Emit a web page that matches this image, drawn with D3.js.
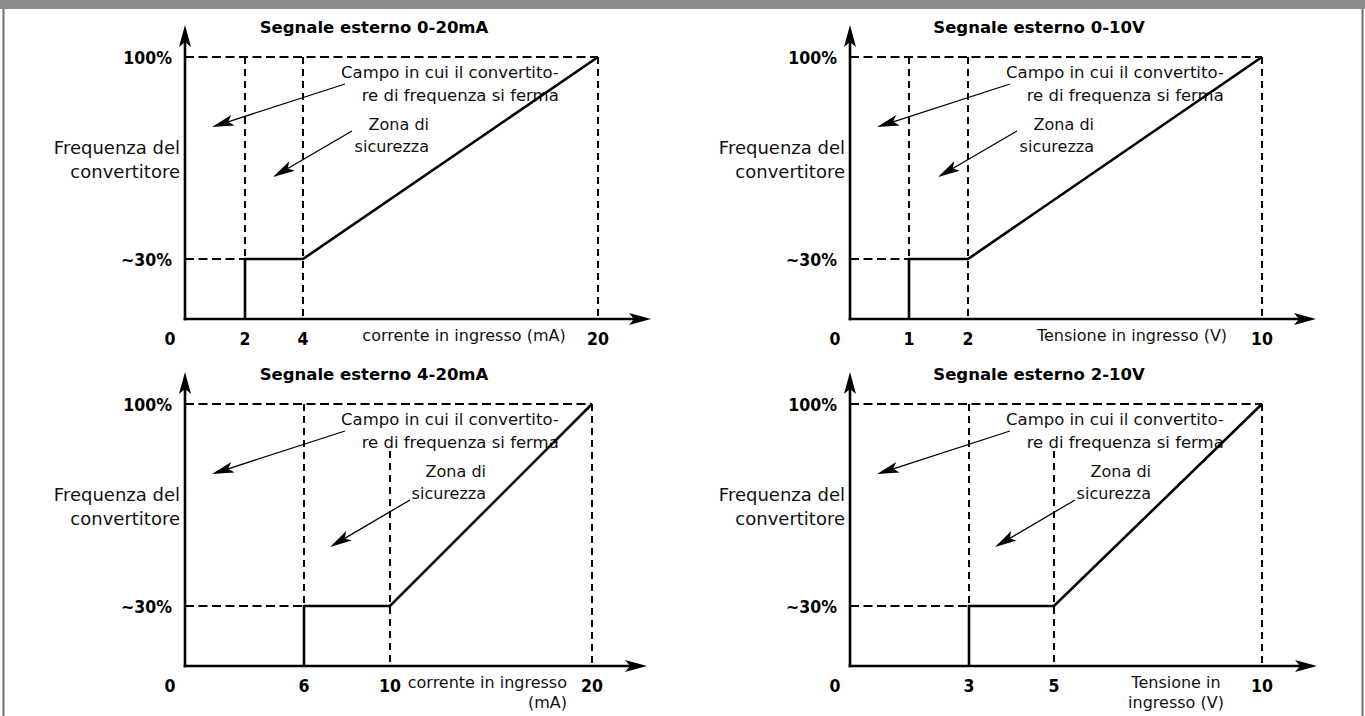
<!DOCTYPE html>
<html><head><meta charset="utf-8">
<script src="https://cdn.jsdelivr.net/npm/d3@7"></script>
<style>
body{margin:0;background:#fff;}
svg{display:block;}
</style>
</head><body>
<svg id="c" width="1365" height="716"></svg>
<script>
// ---------- DATA ----------
const panelTitles = ["Segnale esterno 0-20mA", "Segnale esterno 0-10V", "Segnale esterno 4-20mA", "Segnale esterno 2-10V"];
const xTickValues = [[0, 2, 4, 20], [0, 1, 2, 10], [0, 6, 10, 20], [0, 3, 5, 10]];
const stopPoints = [2, 1, 6, 3];        // below this the converter stops
const rampStarts = [4, 2, 10, 5];       // end of the safety zone
const fullScale = [20, 10, 20, 10];     // input giving 100 %
const minFrequency = 30;                // ~30 %
const maxFrequency = 100;               // 100 %
const yTickValues = [30, 100];
const yTickLabels = ["~30%", "100%"];
const originLabel = "0";
const xAxisLabels = [["corrente in ingresso (mA)"], ["Tensione in ingresso (V)"], ["corrente in ingresso", "(mA)"], ["Tensione in", "ingresso (V)"]];
const yAxisLabel = ["Frequenza del", "convertitore"];
const stopNote = ["Campo in cui il convertito-", "re di frequenza si ferma"];
const safetyNote = ["Zona di", "sicurezza"];

// ---------- LAYOUT / STYLE ----------
const layout = [
  {ox: 185, oy: 319, xr: [0, 60, 118, 413], axisEnd: 466, rampTop: 0, xlab: {anchor: "middle", x: 279}, safeRight: 244, safeArrow: [[167, -188], [88, -142]]},
  {ox: 850, oy: 319, xr: [0, 59, 118, 412], axisEnd: 466, rampTop: 0, xlab: {anchor: "middle", x: 282}, safeRight: 244, safeArrow: [[167, -188], [88, -142]]},
  {ox: 185, oy: 666, xr: [0, 119, 205, 407], axisEnd: 462, rampTop: 35, xlab: {anchor: "end", x: 382}, safeRight: 301, safeArrow: [[225, -166], [145, -119]]},
  {ox: 850, oy: 666, xr: [0, 119, 204, 412], axisEnd: 467, rampTop: 35, xlab: {anchor: "middle", x: 326}, safeRight: 301, safeArrow: [[225, -166], [145, -119]]}
];
const REG = "'DejaVu Sans', 'Noto Sans', sans-serif";
const BOLD_TICK = "'DejaVu Sans Condensed', 'DejaVu Sans', sans-serif";

const svg = d3.select("#c");

// page frame
svg.append("rect").attr("x", 0).attr("y", 0).attr("width", 1365).attr("height", 9).attr("fill", "#8c8c8c");
svg.append("line").attr("x1", 3.5).attr("x2", 3.5).attr("y1", 9).attr("y2", 716).attr("stroke", "#6e6e6e").attr("stroke-width", 2);
svg.append("line").attr("x1", 1362.5).attr("x2", 1362.5).attr("y1", 9).attr("y2", 716).attr("stroke", "#6e6e6e").attr("stroke-width", 2);

function arrow(g, x1, y1, x2, y2, len, half, notch, width) {
  const a = Math.atan2(y2 - y1, x2 - x1);
  const cos = Math.cos(a), sin = Math.sin(a);
  const pt = (back, side) => [x2 - back * cos - side * sin, y2 - back * sin + side * cos];
  const n = pt(len - notch, 0);
  g.append("line").attr("x1", x1).attr("y1", y1).attr("x2", n[0]).attr("y2", n[1])
    .attr("stroke", "#000").attr("stroke-width", width);
  const p1 = pt(len, -half), p2 = pt(len, half);
  g.append("path").attr("d", `M${x2},${y2}L${p1[0]},${p1[1]}L${n[0]},${n[1]}L${p2[0]},${p2[1]}Z`).attr("fill", "#000");
}

panelTitles.forEach((title, i) => {
  const L = layout[i];
  const g = svg.append("g");
  const x = d3.scaleLinear().domain(xTickValues[i]).range(L.xr.map(v => L.ox + v));
  const y = d3.scaleLinear().domain([0, minFrequency, maxFrequency]).range([L.oy, L.oy - 60, L.oy - 262]);

  const dash = g.append("g").attr("stroke", "#000").attr("stroke-width", 2).attr("fill", "none");
  // 100% horizontal
  dash.append("line").attr("x1", x(0)).attr("x2", x(fullScale[i])).attr("y1", y(maxFrequency)).attr("y2", y(maxFrequency)).attr("stroke-dasharray", "9,4.5");
  // ~30% horizontal
  dash.append("line").attr("x1", x(0)).attr("x2", x(stopPoints[i])).attr("y1", y(minFrequency)).attr("y2", y(minFrequency)).attr("stroke-dasharray", "9,4.5");
  // verticals
  dash.append("line").attr("x1", x(stopPoints[i])).attr("x2", x(stopPoints[i])).attr("y1", y(maxFrequency)).attr("y2", y(0)).attr("stroke-dasharray", "7,5");
  dash.append("line").attr("x1", x(rampStarts[i])).attr("x2", x(rampStarts[i])).attr("y1", y(maxFrequency) + L.rampTop).attr("y2", y(0)).attr("stroke-dasharray", "7,5");
  dash.append("line").attr("x1", x(fullScale[i])).attr("x2", x(fullScale[i])).attr("y1", y(maxFrequency)).attr("y2", y(0)).attr("stroke-dasharray", "7,5");

  // annotation texts (white halo)
  const note = g.append("g").attr("font-family", REG).attr("fill", "#111")
    .attr("stroke", "#fff").attr("stroke-width", 5).attr("paint-order", "stroke").attr("stroke-linejoin", "round");
  const t1 = note.append("text").attr("x", L.ox + 156).attr("y", L.oy - 241).attr("font-size", 16.5).text(stopNote[0]);
  const w1 = t1.node().getComputedTextLength();
  note.append("text").attr("x", L.ox + 156 + w1).attr("y", L.oy - 218).attr("font-size", 16.5).attr("text-anchor", "end").text(stopNote[1]);
  note.append("text").attr("x", L.ox + L.safeRight).attr("y", L.oy - 189).attr("font-size", 16).attr("text-anchor", "end").text(safetyNote[0]);
  note.append("text").attr("x", L.ox + L.safeRight).attr("y", L.oy - 167).attr("font-size", 16).attr("text-anchor", "end").text(safetyNote[1]);

  // title
  g.append("text").attr("x", L.ox + 189).attr("y", L.oy - 286).attr("text-anchor", "middle")
    .attr("font-family", REG).attr("font-weight", "bold").attr("font-size", 16.5).attr("fill", "#000").text(title);

  // y-axis label
  yAxisLabel.forEach((s, k) => g.append("text").attr("x", L.ox - 5).attr("y", L.oy - 165 + k * 24)
    .attr("text-anchor", "end").attr("font-family", REG).attr("font-size", 18).attr("fill", "#111").text(s));

  // x-axis label
  xAxisLabels[i].forEach((s, k) => g.append("text").attr("x", L.ox + L.xlab.x).attr("y", L.oy + 22 + k * 20)
    .attr("text-anchor", L.xlab.anchor).attr("font-family", REG).attr("font-size", 16).attr("fill", "#111").text(s));

  // characteristic curve
  const curve = [[stopPoints[i], 0], [stopPoints[i], minFrequency], [rampStarts[i], minFrequency], [fullScale[i], maxFrequency]];
  g.append("path").attr("d", d3.line().x(d => x(d[0])).y(d => y(d[1]))(curve))
    .attr("fill", "none").attr("stroke", "#000").attr("stroke-width", 2.6).attr("stroke-linejoin", "miter");

  // axes
  arrow(g, L.ox, L.oy + 1.3, L.ox, y(maxFrequency) - 32, 22, 6, 5, 2.6);
  arrow(g, L.ox - 1.3, L.oy, L.ox + L.axisEnd, L.oy, 22, 6, 5, 2.6);

  // annotation arrows
  arrow(g, L.ox + 160, L.oy - 235, L.ox + 27, L.oy - 192, 22, 5.5, 5, 1.3);
  arrow(g, L.ox + L.safeArrow[0][0], L.oy + L.safeArrow[0][1], L.ox + L.safeArrow[1][0], L.oy + L.safeArrow[1][1], 22, 5.5, 5, 1.3);

  // tick labels
  const tk = g.append("g").attr("font-family", BOLD_TICK).attr("font-weight", "bold").attr("font-size", 17.5).attr("fill", "#000");
  tk.append("text").attr("x", L.ox - 15).attr("y", L.oy + 26).attr("text-anchor", "middle").text(originLabel);
  xTickValues[i].filter(v => v !== 0).forEach(v =>
    tk.append("text").attr("x", x(v)).attr("y", L.oy + 26).attr("text-anchor", "middle").text(v));
  yTickValues.forEach((v, k) =>
    tk.append("text").attr("x", L.ox - 13).attr("y", y(v) + 7).attr("text-anchor", "end").text(yTickLabels[k]));
});
</script>
</body></html>
